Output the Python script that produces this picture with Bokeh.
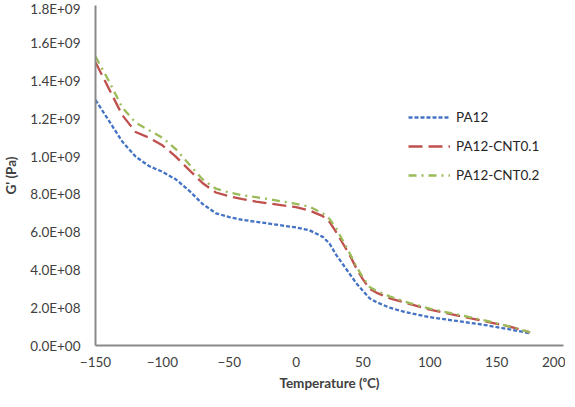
from bokeh.plotting import figure
from bokeh.models import Range1d, FixedTicker, CustomJSTickFormatter, Legend, LegendItem
from bokeh.embed import file_html
from bokeh.resources import INLINE

temperature = [-150, -140, -130, -120, -110, -100, -90, -80, -70, -60, -50, -40, -30, -20, -10, 0,
               10, 20, 25, 30, 35, 40, 45, 50, 55, 60, 70, 80, 100, 120, 140, 160, 175]
pa12 = [1.30e9, 1.19e9, 1.08e9, 1.00e9, 0.95e9, 0.92e9, 0.88e9, 0.82e9, 0.75e9, 0.70e9, 0.68e9,
        0.665e9, 0.655e9, 0.645e9, 0.635e9, 0.625e9, 0.61e9, 0.575e9, 0.54e9, 0.48e9, 0.43e9,
        0.38e9, 0.33e9, 0.29e9, 0.25e9, 0.23e9, 0.20e9, 0.18e9, 0.15e9, 0.13e9, 0.11e9, 0.085e9, 0.065e9]
cnt01 = [1.50e9, 1.36e9, 1.22e9, 1.13e9, 1.10e9, 1.06e9, 1.00e9, 0.93e9, 0.86e9, 0.81e9, 0.79e9,
         0.775e9, 0.762e9, 0.752e9, 0.742e9, 0.732e9, 0.715e9, 0.685e9, 0.655e9, 0.60e9, 0.54e9,
         0.48e9, 0.41e9, 0.35e9, 0.30e9, 0.28e9, 0.25e9, 0.23e9, 0.19e9, 0.16e9, 0.13e9, 0.10e9, 0.07e9]
cnt02 = [1.53e9, 1.40e9, 1.26e9, 1.18e9, 1.14e9, 1.10e9, 1.04e9, 0.96e9, 0.88e9, 0.83e9, 0.81e9,
         0.795e9, 0.785e9, 0.775e9, 0.762e9, 0.75e9, 0.735e9, 0.70e9, 0.67e9, 0.62e9, 0.555e9,
         0.49e9, 0.42e9, 0.36e9, 0.31e9, 0.29e9, 0.26e9, 0.235e9, 0.195e9, 0.165e9, 0.135e9, 0.10e9, 0.07e9]
series_names = ["PA12", "PA12-CNT0.1", "PA12-CNT0.2"]
x_ticks = [-150, -100, -50, 0, 50, 100, 150, 200]
y_ticks = [0, 2e8, 4e8, 6e8, 8e8, 1.0e9, 1.2e9, 1.4e9, 1.6e9, 1.8e9]

FONT = "Lato"
FS = "13.5px"
TXT = "#404040"
AX = "#898989"

p = figure(frame_width=468, frame_height=340, output_backend="svg", toolbar_location=None,
           x_range=Range1d(-150, 200), y_range=Range1d(0, 1.8e9),
           min_border_left=89, min_border_right=2, min_border_top=5, min_border_bottom=46)
p.outline_line_color = None
p.xgrid.grid_line_color = None
p.ygrid.grid_line_color = None

r1 = p.line(temperature, pa12, line_color="#4472C4", line_width=2.3, line_dash="4 2")
r2 = p.line(temperature, cnt01, line_color="#C0504D", line_width=2.3, line_dash="14 6")
r3 = p.line(temperature, cnt02, line_color="#9BBB59", line_width=2.3, line_dash="8 5 2 5")

p.xaxis.ticker = FixedTicker(ticks=x_ticks)
p.yaxis.ticker = FixedTicker(ticks=y_ticks)
p.yaxis.formatter = CustomJSTickFormatter(code="""
if (tick == 0) return "0.0E+00";
var e = Math.floor(Math.log10(tick) + 1e-9);
var m = tick / Math.pow(10, e);
return m.toFixed(1) + "E+" + (e < 10 ? "0" : "") + e;
""")

for ax in (p.xaxis[0], p.yaxis[0]):
    ax.axis_line_color = AX
    ax.axis_line_width = 2
    ax.major_tick_line_color = None
    ax.minor_tick_line_color = None
    ax.major_tick_out = 0
    ax.major_tick_in = 0
    ax.minor_tick_out = 0
    ax.minor_tick_in = 0
    ax.major_label_text_font = FONT
    ax.major_label_text_font_size = FS
    ax.major_label_text_color = TXT
    ax.axis_label_text_font = FONT
    ax.axis_label_text_font_size = FS
    ax.axis_label_text_font_style = "bold"
    ax.axis_label_text_color = TXT

p.xaxis.axis_label = "Temperature (ᵒC)"
p.yaxis.axis_label = "G' (Pa)"
p.xaxis.major_label_standoff = 11
p.xaxis.axis_label_standoff = 5
p.yaxis.major_label_standoff = 15
p.yaxis.axis_label_standoff = 8

legend = Legend(items=[LegendItem(label=series_names[0], renderers=[r1]),
                       LegendItem(label=series_names[1], renderers=[r2]),
                       LegendItem(label=series_names[2], renderers=[r3])],
                location=(313, 160), padding=0, margin=0, spacing=9,
                glyph_width=42, glyph_height=20, label_height=20, label_standoff=6,
                label_text_font=FONT, label_text_font_size=FS, label_text_color="#262626",
                border_line_color=None, background_fill_alpha=0)
p.add_layout(legend, "center")

open("out.html", "w").write(file_html(p, INLINE))
